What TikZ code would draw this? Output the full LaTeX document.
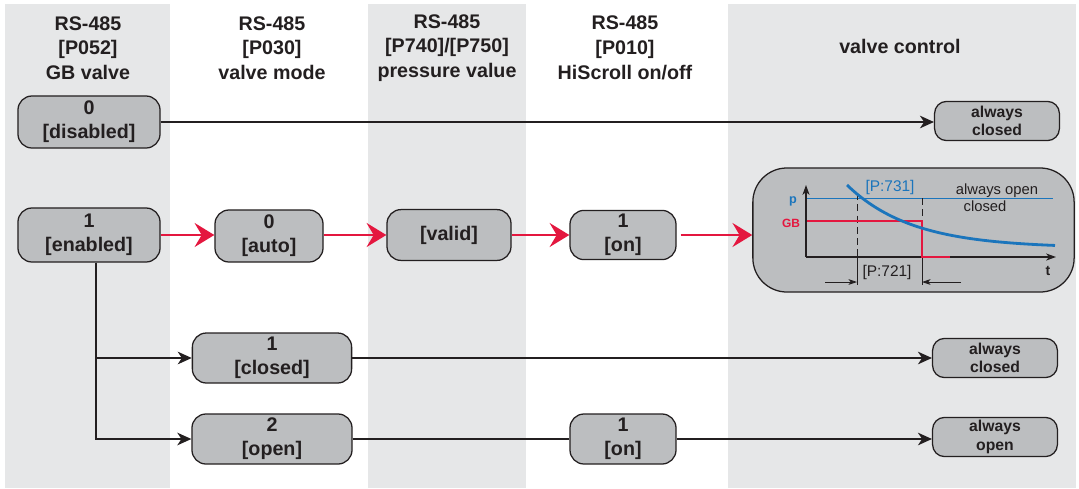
\documentclass[tikz,border=0pt]{standalone}
\usepackage{fontspec}
\setmainfont{Liberation Sans}
\usetikzlibrary{arrows.meta}

\definecolor{bandgray}{HTML}{E6E7E8}
\definecolor{boxgray}{HTML}{BCBEC0}
\definecolor{linegray}{HTML}{231F20}
\definecolor{valvered}{HTML}{E4173F}
\definecolor{valveblue}{HTML}{1B75BC}

\begin{document}
\begin{tikzpicture}[x=0.025cm, y=-0.025cm,
    state/.style={draw=linegray, line width=0.9pt, fill=boxgray, rounded corners=0.35cm,
        align=center, inner sep=0pt, text=linegray, font=\bfseries\fontsize{14}{17}\selectfont},
    result/.style={state, rounded corners=0.3cm, minimum width=3.12cm, minimum height=0.98cm,
        font=\bfseries\fontsize{11.2}{13}\selectfont},
    head/.style={align=center, text=linegray, font=\bfseries\fontsize{14}{17.6}\selectfont},
    link/.style={draw=linegray, line width=0.9pt, -{Stealth[length=10pt, width=9pt, inset=3pt]}},
    flow/.style={draw=valvered, line width=2pt, -{Stealth[length=14pt, width=17pt, inset=5pt]}},
    axis/.style={draw=linegray, line width=0.9pt, -{Stealth[length=7pt, width=5pt, inset=2pt]}},
    dim/.style={draw=linegray, line width=0.6pt, -{Stealth[length=6pt, width=4pt, inset=1.5pt]}},
    lbl/.style={inner sep=0pt, font=\fontsize{11}{13}\selectfont}]
    \useasboundingbox (0,0) rectangle (1079,488);

    % Column bands
    \foreach \a/\b in {5/170, 368/526, 728/1076} {
        \fill[bandgray] (\a,4) rectangle (\b,488);
    }

    % Column headers
    \node[head] (hvalve) at (88,48) {RS-485\\{}[P052]\\GB valve};
    \node[head] (hmode) at (272,48) {RS-485\\{}[P030]\\valve mode};
    \node[head] (hpress) at (447,48) {RS-485\\{}[P740]/[P750]\\pressure value};
    \node[head] (hscroll) at (625,48) {RS-485\\{}[P010]\\HiScroll on/off};
    \node[head] (hctrl) at (900,46) {valve control};

    % GB valve settings
    \node[state, minimum width=3.55cm, minimum height=1.3cm] (disabled) at (89,122) {0\\{}[disabled]};
    \node[state, minimum width=3.55cm, minimum height=1.35cm] (enabled) at (89,235) {1\\{}[enabled]};

    % Valve mode settings
    \node[state, minimum width=2.7cm, minimum height=1.3cm] (auto) at (269,236) {0\\{}[auto]};
    \node[state, minimum width=3.98cm, minimum height=1.25cm] (closed) at (272,358) {1\\{}[closed]};
    \node[state, minimum width=4cm, minimum height=1.25cm] (open) at (272,439) {2\\{}[open]};

    % Pressure value and HiScroll
    \node[state, minimum width=3.1cm, minimum height=1.27cm] (valid) at (449,235) {[valid]};
    \node[state, minimum width=2.65cm, minimum height=1.23cm] (onA) at (623,235) {1\\{}[on]};
    \node[state, minimum width=2.65cm, minimum height=1.25cm] (onB) at (623,439) {1\\{}[on]};

    % Valve control results
    \node[result] (shutA) at (997,121) {always\\closed};
    \node[result] (shutB) at (995,358) {always\\closed};
    \node[result] (openA) at (995,437) {always\\open};

    % Pressure controlled valve chart
    \node[state, minimum width=8.03cm, minimum height=3.1cm, rounded corners=0.85cm] (ctrl) at (913.5,230) {};
    \coordinate (orig) at (806,257);
    \draw[axis] (orig) -- (806,185);
    \draw[axis] (orig) -- (1056,257);
    \draw[valveblue, line width=0.7pt] (807,198) -- (1053,198);
    \draw[linegray, line width=0.7pt, dash pattern=on 5pt off 3pt] (857,193) -- (857,257);
    \draw[linegray, line width=0.7pt] (857,257) -- (857,285);
    \draw[linegray, line width=0.7pt, dash pattern=on 5pt off 3pt] (922,198) -- (922,221);
    \draw[linegray, line width=0.7pt] (922,257) -- (922,285);
    \draw[valvered, line width=1.6pt] (807,221) -- (922,221) -- (922,257) -- (950,257);
    \draw[valveblue, line width=2pt, domain=847:1055, samples=60, smooth]
        plot (\x, {248-63*exp(-(\x-847)/65)});
    \draw[dim] (825,282) -- (857,282);
    \draw[dim] (961,282) -- (922,282);
    \node[lbl, text=valveblue] (pset) at (890,187) {[P:731]};
    \node[lbl, text=linegray] (tset) at (887,272) {[P:721]};
    \node[lbl, text=linegray, font=\fontsize{10.5}{12}\selectfont] (lopen) at (997,191) {always open};
    \node[lbl, text=linegray, font=\fontsize{10.5}{12}\selectfont] (lshut) at (985,206) {closed};
    \node[lbl, text=valveblue, font=\bfseries\fontsize{9}{10}\selectfont] (lp) at (793,201) {p};
    \node[lbl, text=valvered, font=\bfseries\fontsize{8.5}{10}\selectfont] (lgb) at (791,223) {GB};
    \node[lbl, text=linegray, font=\bfseries\fontsize{10}{12}\selectfont] (lt) at (1048,271) {t};

    % Connectors
    \draw[link] (disabled.east) -- (disabled.east -| shutA.west);
    \draw[flow] (enabled.east) -- (enabled.east -| auto.west);
    \draw[flow] (auto.east |- valid) -- (valid.west);
    \draw[flow] (valid.east) -- (valid.east -| onA.west);
    \draw[flow, shorten <=0.1cm] (onA.east) -- (onA.east -| ctrl.west);
    \coordinate (trunk) at (96,300);
    \draw[link] (trunk |- enabled.south) |- (closed.west);
    \draw[link] (trunk |- enabled.south) |- (open.west);
    \draw[link] (closed.east) -- (closed.east -| shutB.west);
    \draw[linegray, line width=0.9pt] (open.east) -- (onB.west);
    \draw[link] (onB.east) -- (onB.east -| openA.west);
\end{tikzpicture}
\end{document}
